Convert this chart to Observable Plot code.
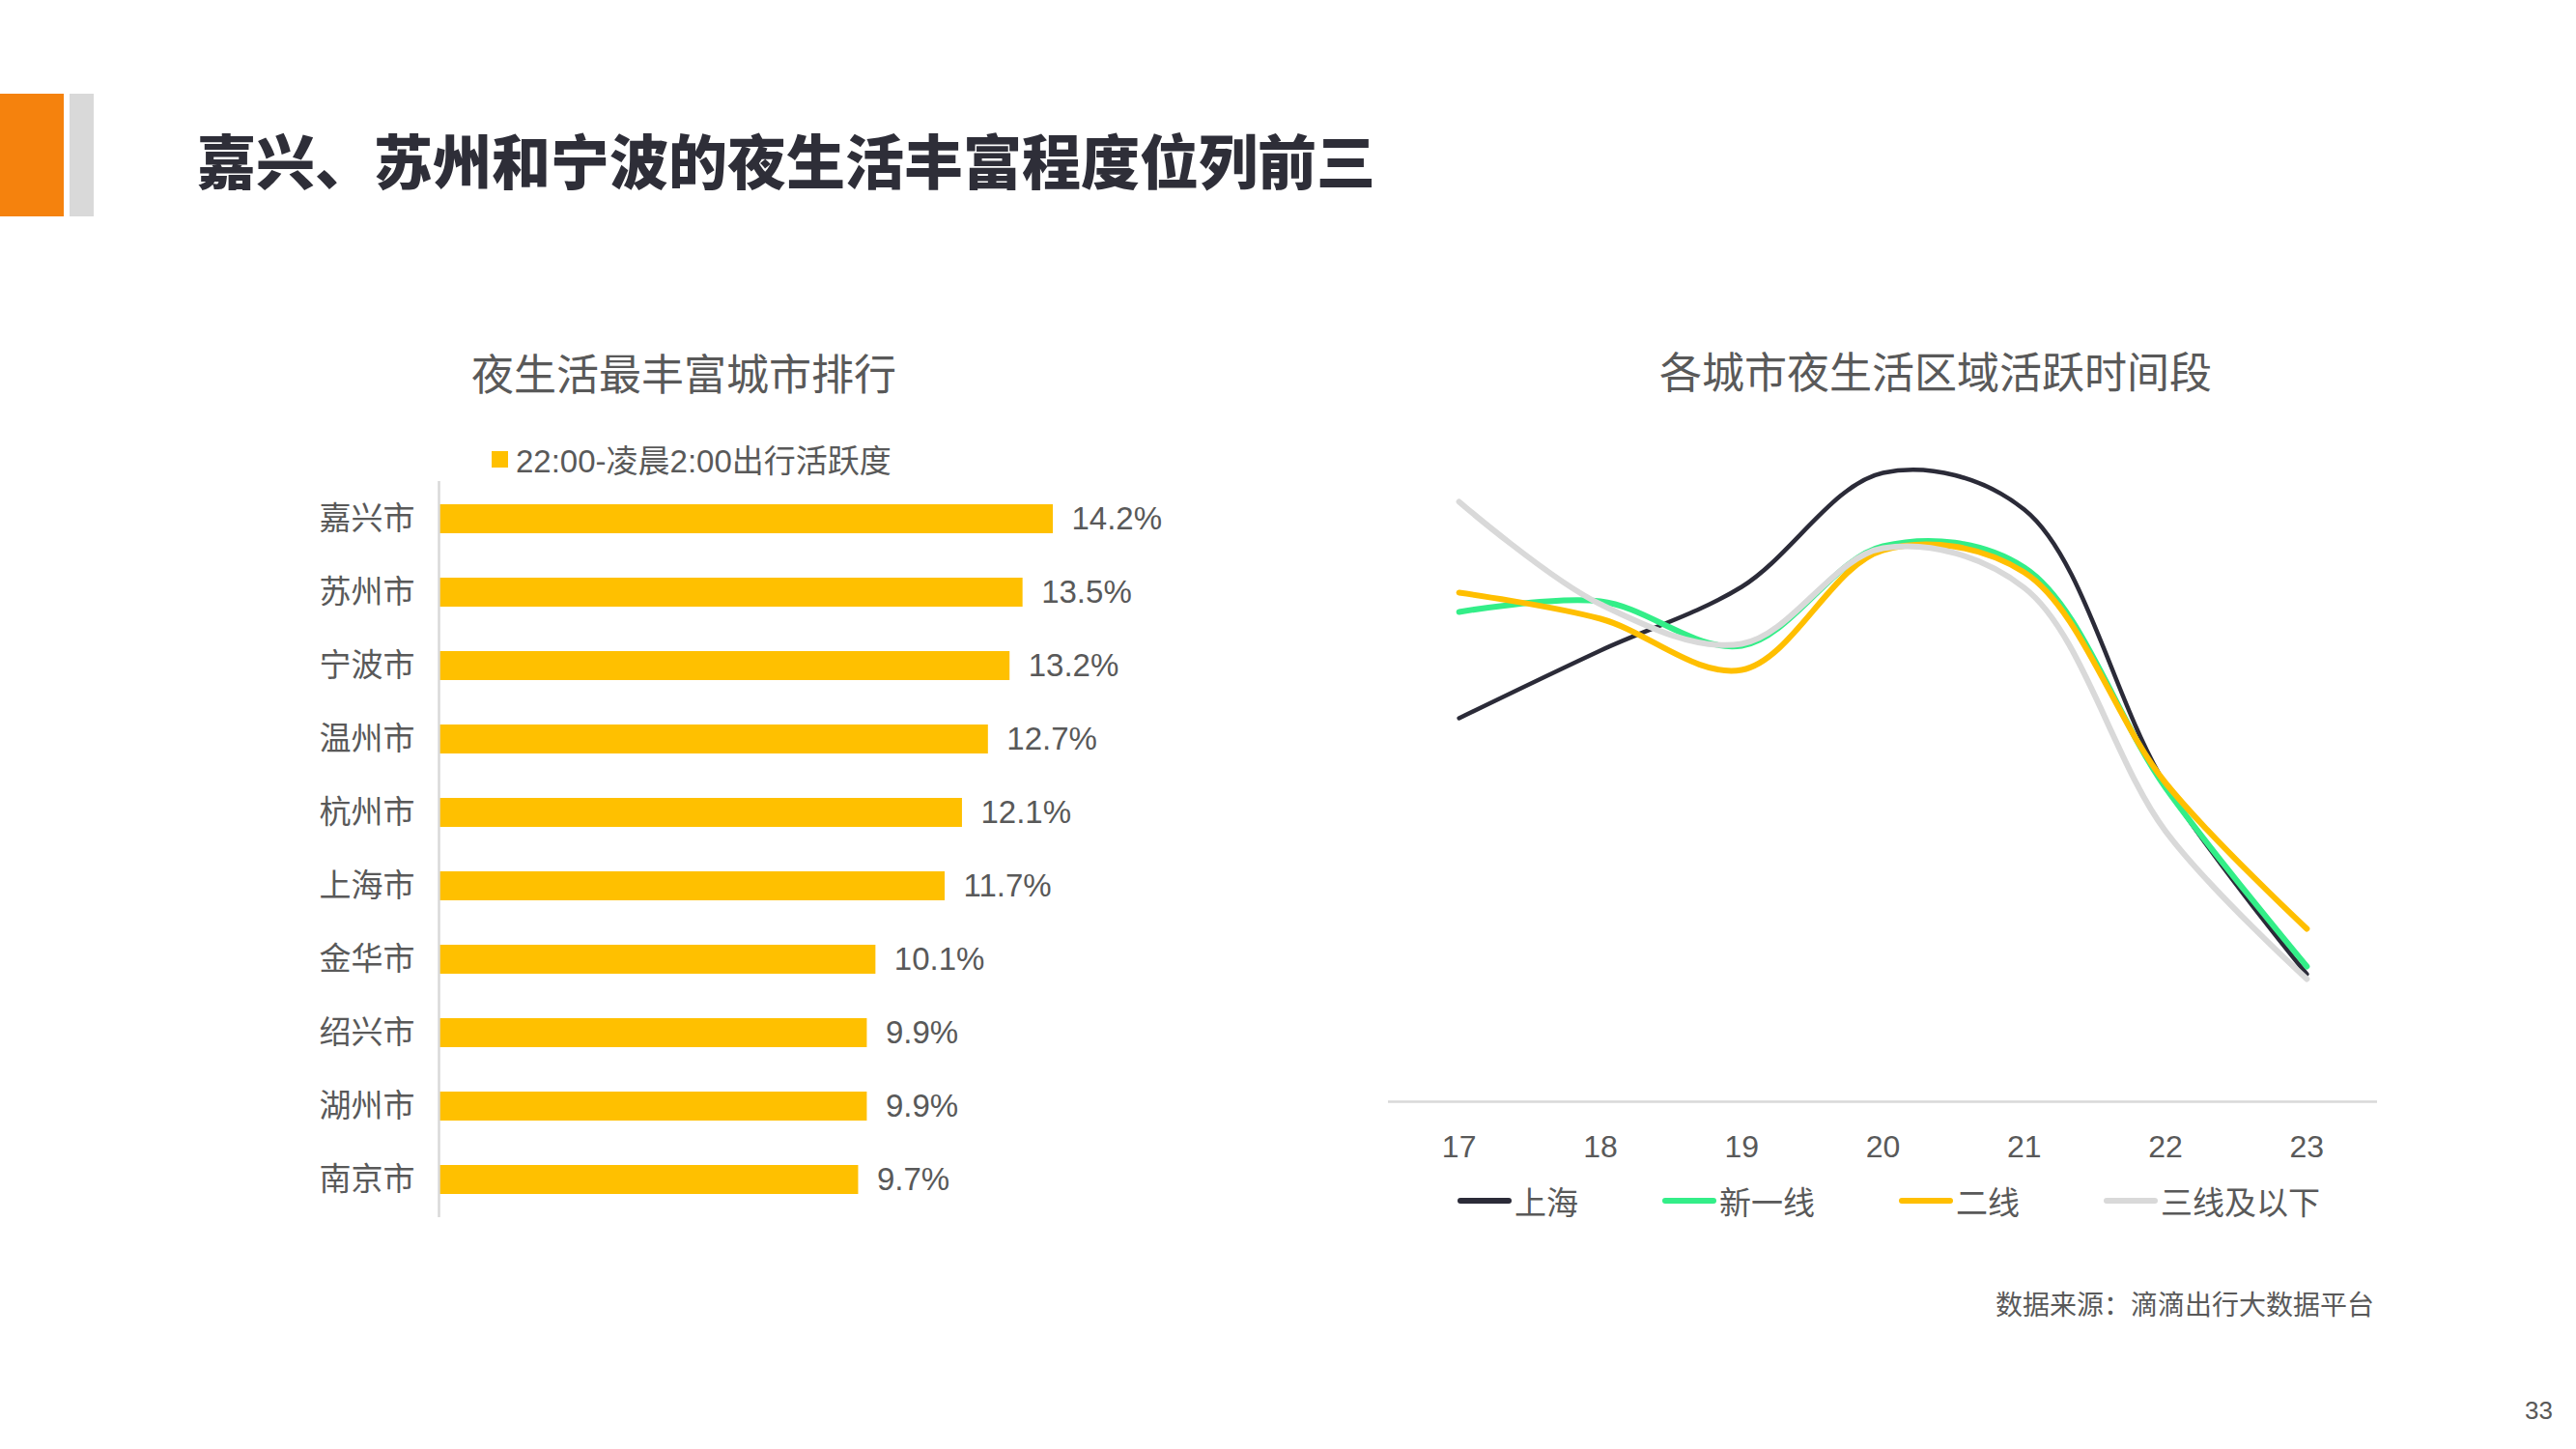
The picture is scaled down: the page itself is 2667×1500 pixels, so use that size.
<!DOCTYPE html>
<html><head><meta charset="utf-8">
<script src="https://cdn.jsdelivr.net/npm/d3@7"></script>
<script src="https://cdn.jsdelivr.net/npm/@observablehq/plot@0.6"></script>
<style>
html,body{margin:0;padding:0;background:#fff}
body{width:2667px;height:1500px;position:relative;overflow:hidden;font-family:"Liberation Sans","Noto Sans CJK SC",sans-serif;color:#595959}
.abs{position:absolute;white-space:nowrap}
.legend{display:flex;align-items:center;gap:87px}
.item{display:flex;align-items:center}
.sw{width:56px;height:6px;border-radius:3px;margin-right:3px}
</style></head><body>
<div class="abs" style="left:0;top:97px;width:66px;height:127px;background:#f5820d"></div>
<div class="abs" style="left:72px;top:97px;width:25px;height:127px;background:#d9d9d9"></div>
<div class="abs" style="left:204px;top:125px;font-size:61px;line-height:80px;font-weight:900;color:#2e2e38;font-family:'Noto Sans CJK SC',sans-serif">嘉兴、苏州和宁波的夜生活丰富程度位列前三</div>

<div class="abs" style="left:488px;top:355px;font-size:44px;line-height:60px;font-family:'Noto Sans CJK SC',sans-serif">夜生活最丰富城市排行</div>
<div class="abs" style="left:1704px;width:600px;text-align:center;top:353px;font-size:44px;line-height:60px;font-family:'Noto Sans CJK SC',sans-serif">各城市夜生活区域活跃时间段</div>

<div class="abs" id="barLegend" style="left:509px;top:452px;height:46px;display:flex;align-items:center;font-size:33px">
  <span style="display:inline-block;width:17px;height:17px;background:#ffc000;margin-right:8px"></span><span id="barSeriesName"></span>
</div>

<div class="abs" id="barChart" style="left:150px;top:480px"></div>
<div class="abs" id="lineChart" style="left:1400px;top:400px"></div>
<div class="abs legend" id="lineLegend" style="left:1509px;top:1220px;height:46px;font-size:33px"></div>

<div class="abs" style="right:209px;top:1330px;font-size:28px;line-height:38px;font-family:'Noto Sans CJK SC',sans-serif">数据来源：滴滴出行大数据平台</div>
<div class="abs" style="left:2614px;top:1444px;font-size:26px;line-height:32px">33</div>

<script>
// ---- bar chart data ----
const barSeries = "22:00-凌晨2:00出行活跃度";
const cities = ["嘉兴市","苏州市","宁波市","温州市","杭州市","上海市","金华市","绍兴市","湖州市","南京市"];
const activity = [14.2,13.5,13.2,12.7,12.1,11.7,10.1,9.9,9.9,9.7];

// ---- line chart data ----
const hours = [17,18,19,20,21,22,23];
const seriesNames = ["上海","新一线","二线","三线及以下"];
const shanghai = [39.7,46.7,53.3,65.1,61.3,32.8,13.2];
const newTier1 = [50.7,51.8,47.2,57.5,55.3,32.5,14.0];
const tier2 = [52.7,50.0,44.7,57.1,54.8,33.0,17.9];
const tier3 = [62.1,51.5,47.4,57.3,53.2,28.0,12.7];
const seriesColors = ["#2b2b38","#33ee88","#ffbf00","#d9d9d9"];
const seriesWidths = [4.5,6,6,6];

document.getElementById("barSeriesName").textContent = barSeries;

const barData = cities.map((c,i)=>({city:c, value:activity[i]}));
const bar = Plot.plot({
  width:1100, height:800,
  marginLeft:304, marginRight:160, marginTop:18, marginBottom:20,
  style:{fontFamily:'"Liberation Sans","Noto Sans CJK SC",sans-serif', fontSize:"33px", color:"#595959", background:"transparent"},
  x:{domain:[0,14.2], axis:null},
  y:{domain:cities, paddingInner:0.6, paddingOuter:0.3, axis:null},
  marks:[
    Plot.barX(barData, {x:"value", y:"city", fill:"#ffc000"}),
    Plot.ruleX([0], {stroke:"#d9d9d9", strokeWidth:2.5}),
    Plot.text(barData, {x:"value", y:"city", text:d=>d.value.toFixed(1)+"%", dx:19, textAnchor:"start", fill:"#595959", fontSize:33}),
    Plot.axisY({tickSize:0, tickPadding:25, fontSize:33, fill:"#595959", label:null})
  ]
});
document.getElementById("barChart").appendChild(bar);

const allSeries = [shanghai,newTier1,tier2,tier3];
const lineData = seriesNames.map((s,k)=>hours.map((h,i)=>({series:s, hour:h, value:allSeries[k][i]})));
const line = Plot.plot({
  width:1100, height:820,
  marginLeft:37, marginRight:39, marginTop:20, marginBottom:80,
  style:{fontFamily:'"Liberation Sans","Noto Sans CJK SC",sans-serif', fontSize:"32px", color:"#595959", background:"transparent"},
  x:{domain:[16.5,23.5], axis:null},
  y:{domain:[0,72], axis:null},
  marks:[
    Plot.ruleY([0], {stroke:"#d9d9d9", strokeWidth:2.5}),
    ...lineData.map((d,k)=>Plot.lineY(d, {x:"hour", y:"value", stroke:seriesColors[k], strokeWidth:seriesWidths[k], curve:"catmull-rom", strokeLinecap:"round"})),
    Plot.axisX({ticks:hours, tickSize:0, tickPadding:35, tickFormat:d=>String(d), fontSize:32, fill:"#595959", label:null})
  ]
});
document.getElementById("lineChart").appendChild(line);

const lg = document.getElementById("lineLegend");
seriesNames.forEach((s,k)=>{
  const it = document.createElement("div"); it.className="item";
  const sw = document.createElement("span"); sw.className="sw"; sw.style.background=seriesColors[k];
  const tx = document.createElement("span"); tx.textContent=s; tx.style.fontFamily="'Noto Sans CJK SC',sans-serif";
  it.appendChild(sw); it.appendChild(tx); lg.appendChild(it);
});
</script>
</body></html>
